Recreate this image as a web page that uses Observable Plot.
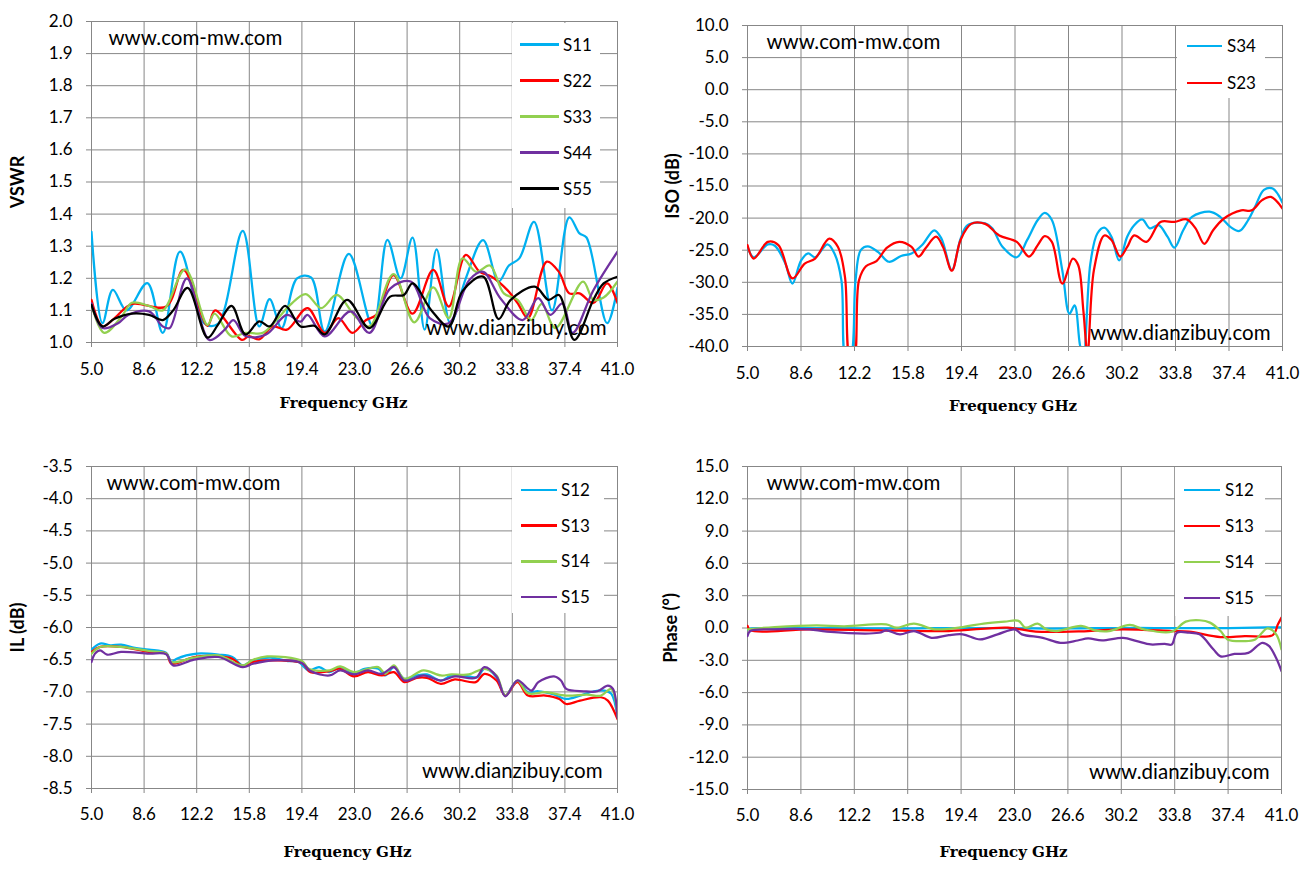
<!DOCTYPE html>
<html><head><meta charset="utf-8">
<script src="https://cdn.jsdelivr.net/npm/d3@7"></script>
<script src="https://cdn.jsdelivr.net/npm/@observablehq/plot@0.6"></script>
<style>
html,body{margin:0;padding:0;background:#fff;}
#root{position:relative;width:1315px;height:876px;overflow:hidden;background:#fff;}
.pane{position:absolute;}
.leg{position:absolute;background:#fff;}
.legrow{position:absolute;font-family:Lato,"Liberation Sans",sans-serif;font-size:17px;color:#000;}
</style></head><body><div id="root"></div>
<script>
// ---------- tick labels ----------
const xTicks = [5.0, 8.6, 12.2, 15.8, 19.4, 23.0, 26.6, 30.2, 33.8, 37.4, 41.0];
const vswrTicks = [1.0, 1.1, 1.2, 1.3, 1.4, 1.5, 1.6, 1.7, 1.8, 1.9, 2.0];
const isoTicks = [-40, -35, -30, -25, -20, -15, -10, -5, 0, 5, 10];
const ilTicks = [-8.5, -8.0, -7.5, -7.0, -6.5, -6.0, -5.5, -5.0, -4.5, -4.0, -3.5];
const phaseTicks = [-15, -12, -9, -6, -3, 0, 3, 6, 9, 12, 15];

// ---------- VSWR ----------
const vswrNames = ["S11", "S22", "S33", "S44", "S55"];
const vswrColors = ["#00B0F0", "#FF0000", "#92D050", "#7030A0", "#000000"];
const s11F = [5.0,5.75,6.46,7.40,8.82,9.88,11.06,12.71,13.65,15.35,16.48,17.19,18.01,19.07,20.02,20.96,22.61,24.26,25.25,26.15,26.97,27.80,28.62,29.56,30.62,31.80,32.86,33.57,34.28,35.29,36.52,37.70,38.40,38.88,40.29,41.0];
const s11V = [1.345,1.06,1.164,1.10,1.185,1.03,1.283,1.06,1.058,1.348,1.05,1.135,1.045,1.20,1.203,1.034,1.276,1.05,1.32,1.20,1.327,1.04,1.29,1.06,1.20,1.319,1.19,1.24,1.262,1.376,1.10,1.39,1.34,1.327,1.06,1.17];
const s22F = [5.0,5.75,6.58,7.76,10.12,11.29,12.94,13.46,15.30,15.77,16.48,17.42,18.37,19.78,20.96,21.90,22.85,23.79,24.50,25.67,26.97,28.39,29.45,30.62,31.57,32.39,33.45,34.16,34.87,36.16,36.99,37.70,38.40,39.35,40.29,41.0];
const s22V = [1.133,1.05,1.076,1.12,1.112,1.226,1.052,1.10,1.008,1.02,1.01,1.05,1.04,1.107,1.03,1.076,1.03,1.07,1.086,1.21,1.09,1.226,1.112,1.273,1.22,1.205,1.164,1.123,1.076,1.252,1.22,1.153,1.153,1.123,1.184,1.123];
const s33F = [5.0,5.87,7.05,7.76,8.94,9.88,11.41,12.94,13.42,14.59,15.54,16.72,17.66,18.60,19.66,20.72,21.78,23.08,24.02,25.67,27.09,28.39,29.45,30.39,31.33,32.27,33.22,34.16,35.10,35.81,36.75,38.64,39.35,40.05,41.0];
const s33V = [1.117,1.03,1.08,1.124,1.114,1.10,1.228,1.055,1.09,1.019,1.03,1.03,1.07,1.117,1.151,1.107,1.148,1.08,1.05,1.213,1.063,1.172,1.076,1.262,1.22,1.24,1.153,1.133,1.07,1.12,1.045,1.19,1.133,1.14,1.19];
const s44F = [5.0,5.75,6.82,7.52,8.94,9.88,10.35,11.53,13.06,14.12,14.71,15.54,16.95,18.37,19.31,19.78,20.96,22.73,24.02,25.44,26.85,28.15,29.45,30.86,31.80,32.98,34.51,35.57,36.40,37.23,37.93,39.35,41.0];
const s44V = [1.122,1.045,1.06,1.086,1.097,1.05,1.045,1.20,1.008,1.04,1.07,1.02,1.025,1.086,1.065,1.086,1.019,1.097,1.03,1.168,1.19,1.076,1.06,1.195,1.22,1.138,1.07,1.138,1.086,1.122,1.03,1.163,1.283];
const s55F = [5.0,5.75,6.58,7.76,8.94,9.88,10.59,11.58,12.94,13.65,14.59,15.54,16.48,17.19,18.25,19.31,20.25,20.96,22.49,24.02,25.44,26.38,26.97,28.27,29.45,30.39,31.80,32.86,33.69,35.34,36.28,36.99,38.05,39.35,40.05,41.0];
const s55V = [1.117,1.05,1.074,1.09,1.086,1.07,1.10,1.17,1.015,1.055,1.114,1.025,1.066,1.05,1.114,1.05,1.052,1.025,1.133,1.045,1.143,1.148,1.184,1.10,1.05,1.16,1.205,1.073,1.133,1.174,1.133,1.148,1.008,1.133,1.184,1.205];

// ---------- ISO ----------
const isoNames = ["S34", "S23"];
const isoColors = ["#00B0F0", "#FF0000"];
const s34F = [5.00,5.42,6.37,6.84,7.55,8.02,8.61,9.08,9.55,10.38,10.85,11.32,11.63,11.91,12.27,12.62,13.09,13.80,14.51,15.33,16.04,16.75,17.57,18.05,18.75,19.34,19.81,20.99,21.47,22.17,23.12,23.82,24.53,25.00,25.48,26.18,26.66,27.01,27.36,27.60,28.07,28.54,29.01,29.49,30.01,30.55,31.02,31.56,32.08,32.67,33.26,33.73,34.32,34.91,36.09,36.80,37.51,38.10,38.69,39.16,39.75,40.34,41.00];
const s34V = [-24.4,-26.1,-24.1,-24.3,-27.1,-30.2,-26.6,-25.5,-26.1,-24.1,-25.5,-29.7,-42,-42,-29.7,-25.0,-24.4,-25.3,-26.8,-25.9,-25.5,-24.2,-21.9,-23.2,-28.1,-23.2,-21.1,-20.8,-21.6,-24.5,-26.1,-23.4,-20.3,-19.2,-20.3,-28.1,-34.9,-33.6,-39.6,-42,-27.1,-22.4,-21.5,-22.9,-26.6,-22.9,-21.1,-20.2,-21.6,-21.1,-22.9,-24.6,-21.9,-19.8,-19.0,-19.8,-21.4,-22.0,-20.3,-18.2,-15.6,-15.4,-17.6];
const s23F = [5.00,5.42,6.37,7.08,8.02,8.85,9.55,10.50,11.09,11.56,11.91,12.15,12.50,12.97,13.68,14.39,15.21,16.04,16.51,16.98,17.69,18.16,18.75,19.34,20.05,20.99,21.94,23.12,23.94,24.53,25.00,25.48,26.18,26.89,27.25,27.60,27.88,28.31,29.01,29.49,30.08,30.55,31.02,31.85,32.79,33.73,34.55,35.15,35.74,36.33,37.04,38.22,38.92,39.63,40.22,41.00];
const s23V = [-24.2,-26.3,-23.7,-24.2,-29.4,-27.1,-26.3,-23.2,-24.5,-29.2,-42,-42,-29.7,-27.5,-26.7,-24.6,-23.7,-24.5,-26.0,-24.7,-22.9,-24.5,-28.2,-23.4,-20.9,-20.9,-22.7,-23.7,-26.0,-24.2,-22.8,-23.7,-30.2,-26.3,-27.3,-34.4,-41,-28.1,-22.7,-23.4,-26.0,-24.5,-22.7,-23.7,-20.6,-20.6,-20.2,-21.6,-24.0,-21.9,-20.1,-18.8,-18.8,-17.2,-16.7,-18.5];

// ---------- IL ----------
const ilNames = ["S12", "S13", "S14", "S15"];
const ilColors = ["#00B0F0", "#FF0000", "#92D050", "#7030A0"];
const il12F = [5.00,5.59,6.31,7.02,7.97,8.93,10.12,10.47,10.83,12.21,13.68,14.64,15.35,16.06,17.25,18.44,19.16,19.87,20.58,21.30,22.01,22.96,23.68,24.63,25.10,25.70,26.41,27.25,27.96,28.91,29.63,30.82,31.41,31.89,32.72,33.32,34.15,34.87,35.58,36.53,37.49,38.44,39.39,40.10,40.58,41.00];
const il12V = [-6.344,-6.25,-6.276,-6.266,-6.318,-6.344,-6.396,-6.536,-6.484,-6.406,-6.422,-6.458,-6.589,-6.51,-6.469,-6.521,-6.536,-6.667,-6.615,-6.693,-6.615,-6.708,-6.641,-6.641,-6.745,-6.615,-6.797,-6.745,-6.729,-6.823,-6.745,-6.76,-6.771,-6.641,-6.771,-7.057,-6.823,-7.005,-6.99,-7.031,-7.109,-7.057,-6.99,-6.979,-7.031,-7.396];
const il13F = [5.00,5.59,7.02,8.93,10.12,10.47,12.02,13.68,14.64,15.35,16.06,17.49,19.40,19.99,21.30,22.01,22.96,23.92,24.87,25.70,26.41,27.25,27.96,28.91,29.87,31.30,31.89,32.72,33.32,34.15,34.87,36.06,37.01,37.49,38.44,39.87,40.34,41.00];
const il13V = [-6.38,-6.302,-6.302,-6.38,-6.406,-6.563,-6.458,-6.448,-6.484,-6.599,-6.536,-6.51,-6.552,-6.693,-6.677,-6.641,-6.76,-6.693,-6.745,-6.693,-6.849,-6.781,-6.781,-6.875,-6.807,-6.849,-6.719,-6.823,-7.057,-6.849,-7.057,-7.057,-7.109,-7.188,-7.135,-7.083,-7.135,-7.422];
const il14F = [5.00,5.59,7.02,8.93,10.12,10.47,12.02,13.68,15.35,16.06,17.02,19.40,19.87,21.30,22.01,22.96,24.63,25.10,25.70,26.41,27.72,28.91,29.63,30.82,31.89,32.72,33.32,34.15,34.87,36.06,37.49,38.91,39.87,40.58,41.00];
const il14V = [-6.406,-6.302,-6.302,-6.365,-6.406,-6.536,-6.469,-6.432,-6.589,-6.5,-6.448,-6.521,-6.641,-6.667,-6.604,-6.693,-6.615,-6.719,-6.589,-6.797,-6.667,-6.745,-6.729,-6.729,-6.641,-6.745,-7.057,-6.823,-7.021,-7.005,-7.057,-7.042,-7.057,-6.953,-7.37];
const il15F = [5.00,5.24,5.59,6.07,7.02,8.93,10.12,10.59,12.02,13.68,15.35,16.06,17.49,19.40,19.99,21.30,22.01,22.96,23.92,24.87,25.70,26.41,27.72,28.91,29.87,31.30,31.89,32.72,33.32,34.15,35.11,35.58,36.65,37.13,37.49,38.68,39.63,40.34,40.69,41.00];
const il15V = [-6.536,-6.406,-6.354,-6.422,-6.38,-6.406,-6.417,-6.589,-6.5,-6.458,-6.615,-6.563,-6.51,-6.552,-6.677,-6.745,-6.667,-6.729,-6.667,-6.719,-6.615,-6.823,-6.745,-6.823,-6.76,-6.781,-6.615,-6.76,-7.068,-6.823,-6.979,-6.849,-6.76,-6.823,-6.953,-6.99,-6.99,-6.901,-6.953,-7.4];

// ---------- Phase ----------
const phNames = ["S12", "S13", "S14", "S15"];
const phColors = ["#00B0F0", "#FF0000", "#92D050", "#7030A0"];
const ph12F = [5.0,5.2,7.5,10.0,12.5,15.0,17.5,20.0,22.5,25.0,27.5,30.0,32.5,35.0,37.5,40.0,41.0];
const ph12V = [-0.15,-0.05,-0.02,0.0,-0.03,-0.03,-0.02,0.0,-0.02,-0.05,-0.03,0.0,0.0,0.0,0.0,0.05,0.05];
const ph13F = [5.00,5.19,9.18,13.88,18.57,22.56,24.44,27.96,30.31,33.60,34.77,36.89,38.53,40.41,40.76,41.00];
const ph13V = [0.2,-0.22,-0.125,-0.22,-0.28,0.03,-0.34,-0.28,-0.125,-0.28,-0.34,-0.84,-0.75,-0.66,0.34,0.97];
const ph14F = [5.00,6.83,9.65,11.53,14.35,15.05,16.22,17.63,19.51,20.92,22.33,23.27,23.74,24.56,25.15,25.85,27.49,28.43,29.37,30.78,31.72,33.60,34.54,35.48,36.18,36.89,37.36,38.53,39.23,40.06,40.64,41.00];
const ph14V = [-0.125,0.09,0.25,0.16,0.34,0.03,0.41,-0.125,0.09,0.41,0.59,0.66,0.03,0.41,-0.125,-0.28,0.19,-0.22,-0.28,0.28,-0.125,-0.34,0.59,0.72,0.5,-0.28,-1.06,-1.22,-1.06,-0.03,-0.59,-2.0];
const ph15F = [5.00,5.19,6.83,9.18,10.35,13.88,14.35,15.28,16.22,17.40,18.57,19.51,20.68,21.86,23.03,23.50,24.91,26.09,27.26,27.96,28.90,30.31,31.25,32.19,33.13,33.60,33.95,34.77,35.48,36.42,36.89,37.83,38.76,39.70,40.17,40.64,41.00];
const ph15V = [-0.75,-0.28,-0.125,-0.125,-0.34,-0.44,-0.22,-0.59,-0.28,-0.91,-0.66,-0.59,-1.06,-0.59,-0.125,-0.59,-0.91,-1.375,-1.16,-0.97,-1.16,-0.91,-1.22,-1.53,-1.47,-1.53,-0.44,-0.44,-0.59,-2.0,-2.63,-2.41,-2.31,-1.375,-1.69,-2.78,-4.0];

// ---------- helpers ----------
function rows(names, fs, vs) {
  const out = [];
  names.forEach((n, i) => fs[i].forEach((f, j) => out.push({series: n, f, v: vs[i][j]})));
  return out;
}
const fmt1 = d => d.toFixed(1);
const GRID = "#878787";
const TICKFONT = "Lato, 'Liberation Sans', sans-serif";
const root = document.getElementById("root");

function panel(o) {
  const data = rows(o.names, o.fs, o.vs);
  const chart = Plot.plot({
    width: o.w, height: o.h,
    marginLeft: o.mL, marginRight: o.mR, marginTop: o.mT, marginBottom: o.mB,
    style: {fontFamily: TICKFONT, fontSize: "17px", color: "#000", background: "transparent", overflow: "visible"},
    x: {domain: [5, 41]},
    y: {domain: [o.yTicks[0], o.yTicks[o.yTicks.length - 1]]},
    color: {domain: o.names, range: o.colors},
    marks: [
      Plot.gridX(xTicks, {stroke: GRID, strokeOpacity: 1, strokeWidth: 1}),
      Plot.gridY(o.yTicks, {stroke: GRID, strokeOpacity: 1, strokeWidth: 1}),
      Plot.axisX(xTicks, {tickFormat: fmt1, tickSize: 5, tickPadding: o.xPad, stroke: GRID, label: null, fontSize: 17}),
      Plot.axisY(o.yTicks, {tickFormat: fmt1, tickSize: 5, tickPadding: 14, stroke: GRID, label: null, fontSize: 17}),
      Plot.ruleX([5], {stroke: GRID}),
      Plot.ruleY([o.yTicks[0]], {stroke: GRID}),
      Plot.line(data, {x: "f", y: "v", z: "series", stroke: "series", strokeWidth: 2.25, curve: "catmull-rom", clip: true}),
      Plot.text(["www.com-mw.com"], {text: d => d, frameAnchor: "top-left", dx: o.wm1[0], dy: o.wm1[1], textAnchor: "start", lineAnchor: "middle", fontSize: 20.5, fill: "#000"}),
      Plot.text(["www.dianzibuy.com"], {text: d => d, frameAnchor: "bottom-right", dx: o.wm2[0], dy: o.wm2[1], textAnchor: "end", lineAnchor: "middle", fontSize: 20.5, fill: "#000"}),
      Plot.text(["Frequency GHz"], {text: d => d, frameAnchor: "bottom", dx: o.xLabDx, dy: o.xLabDy, lineAnchor: "middle", textAnchor: "middle", fontFamily: "'DejaVu Serif', serif", fontWeight: "bold", fontSize: 15, fill: "#000"}),
      Plot.text([o.yLabel], {text: d => d, frameAnchor: "left", dx: o.yLabDx, rotate: -90, lineAnchor: "middle", textAnchor: "middle", fontFamily: TICKFONT, fontWeight: "bold", fontSize: 18, fill: "#000"})
    ]
  });
  const div = document.createElement("div");
  div.className = "pane";
  div.style.left = o.left + "px"; div.style.top = o.top + "px";
  div.appendChild(chart);
  root.appendChild(div);

  // legend box
  const lg = o.leg;
  const box = document.createElement("div");
  box.className = "leg";
  Object.assign(box.style, {left: lg.x + "px", top: lg.y + "px", width: lg.w + "px", height: lg.h + "px"});
  root.appendChild(box);
  o.names.forEach((n, i) => {
    const cy = lg.r0 + i * lg.dr;
    const ln = document.createElement("div");
    Object.assign(ln.style, {position: "absolute", left: lg.l0 + "px", top: (cy - 1.25) + "px", width: (lg.l1 - lg.l0) + "px", height: "2.5px", background: o.colors[i]});
    root.appendChild(ln);
    const t = document.createElement("div");
    t.className = "legrow";
    t.textContent = n;
    Object.assign(t.style, {left: lg.tx + "px", top: (cy - 11) + "px", lineHeight: "22px"});
    root.appendChild(t);
  });
}

panel({left: 0, top: 0, w: 650, h: 430, mL: 91, mR: 33, mT: 21, mB: 88, xPad: 15,
  names: vswrNames, colors: vswrColors, fs: [s11F, s22F, s33F, s44F, s55F], vs: [s11V, s22V, s33V, s44V, s55V],
  yTicks: vswrTicks, yLabel: "VSWR", yLabDx: -73, xLabDx: -11, xLabDy: 61, wm1: [17, 17], wm2: [-11, -14],
  leg: {x: 512, y: 23, w: 88, h: 185, r0: 44.5, dr: 36, l0: 520, l1: 559, tx: 563}});
panel({left: 650, top: 0, w: 665, h: 430, mL: 97, mR: 33, mT: 25, mB: 84, xPad: 15,
  names: isoNames, colors: isoColors, fs: [s34F, s23F], vs: [s34V, s23V],
  yTicks: isoTicks, yLabel: "ISO (dB)", yLabDx: -74, xLabDx: -2, xLabDy: 60, wm1: [19, 17], wm2: [-12, -13],
  leg: {x: 1177, y: 26, w: 88, h: 72, r0: 46, dr: 37, l0: 1187, l1: 1222, tx: 1227}});
panel({left: 0, top: 430, w: 650, h: 446, mL: 91, mR: 33, mT: 36, mB: 88, xPad: 14,
  names: ilNames, colors: ilColors, fs: [il12F, il13F, il14F, il15F], vs: [il12V, il13V, il14V, il15V],
  yTicks: ilTicks, yLabel: "IL (dB)", yLabDx: -73, xLabDx: -7, xLabDy: 64, wm1: [15, 17], wm2: [-15, -17],
  leg: {x: 512, y: 467, w: 92, h: 146, r0: 490, dr: 35.7, l0: 521, l1: 557, tx: 561}});
panel({left: 650, top: 430, w: 665, h: 446, mL: 97, mR: 34, mT: 36, mB: 87, xPad: 14,
  names: phNames, colors: phColors, fs: [ph12F, ph13F, ph14F, ph15F], vs: [ph12V, ph13V, ph14V, ph15V],
  yTicks: phaseTicks, yLabel: "Phase (°)", yLabDx: -76, xLabDx: -11, xLabDy: 63, wm1: [19, 17], wm2: [-12, -17],
  leg: {x: 1175, y: 467, w: 90, h: 149, r0: 490, dr: 36, l0: 1184, l1: 1220, tx: 1225}});
</script></body></html>
